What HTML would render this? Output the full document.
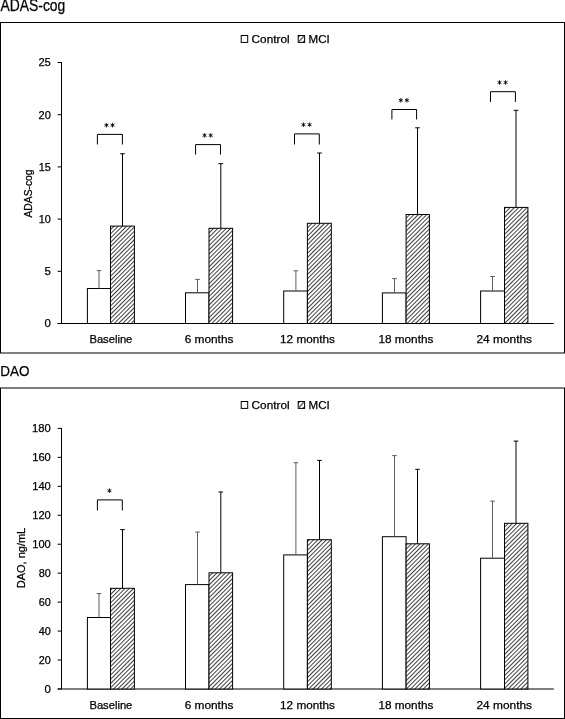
<!DOCTYPE html><html><head><meta charset="utf-8"><style>html,body{margin:0;padding:0;background:#fff;width:565px;height:719px;overflow:hidden}svg{display:block;font-family:"Liberation Sans", sans-serif;will-change:transform}text{fill:#000;stroke:#000;stroke-width:0.25px}</style></head><body>
<svg width="565" height="719" viewBox="0 0 565 719">
<defs><pattern id="hatch" patternUnits="userSpaceOnUse" width="3" height="3" patternTransform="rotate(45)"><rect width="3" height="3" fill="#fff"/><rect x="0" y="0" width="0.75" height="3" fill="#000"/></pattern><pattern id="hatchL" patternUnits="userSpaceOnUse" width="3" height="3" patternTransform="rotate(45)"><rect width="3" height="3" fill="#fff"/><rect x="0" y="0" width="0.75" height="3" fill="#000"/></pattern></defs>
<rect x="0" y="0" width="565" height="719" fill="#fff"/>
<text x="0.5" y="10.5" font-size="16" text-anchor="start" textLength="64.8" lengthAdjust="spacingAndGlyphs">ADAS-cog</text>
<text x="0.3" y="375.6" font-size="15.5" text-anchor="start" textLength="29.2" lengthAdjust="spacingAndGlyphs">DAO</text>
<rect x="0.5" y="22.5" width="564" height="330.5" fill="none" stroke="#000" stroke-width="1"/>
<rect x="0.5" y="388" width="564" height="330.5" fill="none" stroke="#000" stroke-width="1"/>
<rect x="241.2" y="35.5" width="6.5" height="6.9" fill="#fff" stroke="#000" stroke-width="1"/>
<text x="251.6" y="42.7" font-size="11" text-anchor="start" textLength="38.0" lengthAdjust="spacingAndGlyphs">Control</text>
<rect x="298.2" y="35.5" width="6.4" height="6.9" fill="#fff" stroke="#000" stroke-width="1"/>
<line x1="298.9" y1="41.8" x2="303.9" y2="36.1" stroke="#6a6a6a" stroke-width="1.5"/>
<path d="M298.2 35.5h2.2l-2.2 2.3z" fill="#000"/>
<path d="M304.6 42.4h-2.2l2.2 -2.3z" fill="#000"/>
<text x="308.6" y="42.7" font-size="11" text-anchor="start" textLength="21.2" lengthAdjust="spacingAndGlyphs">MCI</text>
<line x1="61.5" y1="62.0" x2="61.5" y2="323.5" stroke="#000" stroke-width="1"/>
<line x1="57.6" y1="323.5" x2="61.5" y2="323.5" stroke="#000" stroke-width="1"/>
<text x="50.8" y="327.4" font-size="11" text-anchor="end" textLength="6.3999999999999995" lengthAdjust="spacingAndGlyphs">0</text>
<line x1="57.6" y1="271.3" x2="61.5" y2="271.3" stroke="#000" stroke-width="1"/>
<text x="50.8" y="275.2" font-size="11" text-anchor="end" textLength="6.3999999999999995" lengthAdjust="spacingAndGlyphs">5</text>
<line x1="57.6" y1="219.10000000000002" x2="61.5" y2="219.10000000000002" stroke="#000" stroke-width="1"/>
<text x="50.8" y="223.00000000000003" font-size="11" text-anchor="end" textLength="12.100000000000001" lengthAdjust="spacingAndGlyphs">10</text>
<line x1="57.6" y1="166.9" x2="61.5" y2="166.9" stroke="#000" stroke-width="1"/>
<text x="50.8" y="170.8" font-size="11" text-anchor="end" textLength="12.100000000000001" lengthAdjust="spacingAndGlyphs">15</text>
<line x1="57.6" y1="114.70000000000002" x2="61.5" y2="114.70000000000002" stroke="#000" stroke-width="1"/>
<text x="50.8" y="118.60000000000002" font-size="11" text-anchor="end" textLength="12.3" lengthAdjust="spacingAndGlyphs">20</text>
<line x1="57.6" y1="62.5" x2="61.5" y2="62.5" stroke="#000" stroke-width="1"/>
<text x="50.8" y="66.4" font-size="11" text-anchor="end" textLength="12.4" lengthAdjust="spacingAndGlyphs">25</text>
<line x1="57.6" y1="323.5" x2="553.8" y2="323.5" stroke="#000" stroke-width="1"/>
<text x="0" y="0" font-size="10.6" text-anchor="middle" textLength="48" lengthAdjust="spacingAndGlyphs" transform="translate(32.2,193.5) rotate(-90)">ADAS-cog</text>
<rect x="87.4" y="288.5" width="23.10" height="35.00" fill="#fff" stroke="#000" stroke-width="1"/>
<line x1="99.0" y1="270.6" x2="99.0" y2="288.5" stroke="#5c5c5c" stroke-width="1"/>
<line x1="96.7" y1="270.6" x2="101.3" y2="270.6" stroke="#5c5c5c" stroke-width="1"/>
<rect x="110.5" y="226.1" width="23.90" height="97.40" fill="url(#hatch)" stroke="#000" stroke-width="1"/>
<line x1="122.5" y1="153.75" x2="122.5" y2="226.1" stroke="#000" stroke-width="1"/>
<line x1="120.2" y1="153.75" x2="124.8" y2="153.75" stroke="#000" stroke-width="1"/>
<text x="110.9" y="343.1" font-size="11" text-anchor="middle" textLength="42.9" lengthAdjust="spacingAndGlyphs">Baseline</text>
<rect x="185.5" y="292.8" width="23.50" height="30.70" fill="#fff" stroke="#000" stroke-width="1"/>
<line x1="197.5" y1="279.4" x2="197.5" y2="292.8" stroke="#5c5c5c" stroke-width="1"/>
<line x1="195.2" y1="279.4" x2="199.8" y2="279.4" stroke="#5c5c5c" stroke-width="1"/>
<rect x="209.0" y="228.3" width="23.60" height="95.20" fill="url(#hatch)" stroke="#000" stroke-width="1"/>
<line x1="220.8" y1="163.7" x2="220.8" y2="228.3" stroke="#000" stroke-width="1"/>
<line x1="218.5" y1="163.7" x2="223.10000000000002" y2="163.7" stroke="#000" stroke-width="1"/>
<text x="209.05" y="343.1" font-size="11" text-anchor="middle" textLength="48.8" lengthAdjust="spacingAndGlyphs">6 months</text>
<rect x="283.7" y="291.0" width="23.70" height="32.50" fill="#fff" stroke="#000" stroke-width="1"/>
<line x1="295.9" y1="270.8" x2="295.9" y2="291.0" stroke="#5c5c5c" stroke-width="1"/>
<line x1="293.59999999999997" y1="270.8" x2="298.2" y2="270.8" stroke="#5c5c5c" stroke-width="1"/>
<rect x="307.4" y="223.3" width="23.90" height="100.20" fill="url(#hatch)" stroke="#000" stroke-width="1"/>
<line x1="319.5" y1="153.0" x2="319.5" y2="223.3" stroke="#000" stroke-width="1"/>
<line x1="317.2" y1="153.0" x2="321.8" y2="153.0" stroke="#000" stroke-width="1"/>
<text x="307.5" y="343.1" font-size="11" text-anchor="middle" textLength="54.8" lengthAdjust="spacingAndGlyphs">12 months</text>
<rect x="382.4" y="292.9" width="23.70" height="30.60" fill="#fff" stroke="#000" stroke-width="1"/>
<line x1="394.5" y1="278.6" x2="394.5" y2="292.9" stroke="#5c5c5c" stroke-width="1"/>
<line x1="392.2" y1="278.6" x2="396.8" y2="278.6" stroke="#5c5c5c" stroke-width="1"/>
<rect x="406.1" y="214.5" width="23.30" height="109.00" fill="url(#hatch)" stroke="#000" stroke-width="1"/>
<line x1="417.5" y1="127.8" x2="417.5" y2="214.5" stroke="#000" stroke-width="1"/>
<line x1="415.2" y1="127.8" x2="419.8" y2="127.8" stroke="#000" stroke-width="1"/>
<text x="405.9" y="343.1" font-size="11" text-anchor="middle" textLength="55.0" lengthAdjust="spacingAndGlyphs">18 months</text>
<rect x="480.6" y="291.0" width="23.90" height="32.50" fill="#fff" stroke="#000" stroke-width="1"/>
<line x1="492.5" y1="276.5" x2="492.5" y2="291.0" stroke="#5c5c5c" stroke-width="1"/>
<line x1="490.2" y1="276.5" x2="494.8" y2="276.5" stroke="#5c5c5c" stroke-width="1"/>
<rect x="504.5" y="207.4" width="23.40" height="116.10" fill="url(#hatch)" stroke="#000" stroke-width="1"/>
<line x1="516.0" y1="110.3" x2="516.0" y2="207.4" stroke="#000" stroke-width="1"/>
<line x1="513.7" y1="110.3" x2="518.3" y2="110.3" stroke="#000" stroke-width="1"/>
<text x="504.25" y="343.1" font-size="11" text-anchor="middle" textLength="55.5" lengthAdjust="spacingAndGlyphs">24 months</text>
<path d="M97.4 144.5 V134.4 H122.4 V144.5" fill="none" stroke="#000" stroke-width="1"/>
<path d="M106.45 122.95L106.45 127.45M108.40 124.08L104.50 126.33M108.40 126.33L104.50 124.08" stroke="#000" stroke-width="0.9" fill="none"/>
<path d="M112.55 122.95L112.55 127.45M114.50 124.08L110.60 126.33M114.50 126.33L110.60 124.08" stroke="#000" stroke-width="0.9" fill="none"/>
<path d="M195.6 154.5 V144.6 H220.5 V154.5" fill="none" stroke="#000" stroke-width="1"/>
<path d="M204.60 133.15L204.60 137.65M206.55 134.28L202.65 136.53M206.55 136.53L202.65 134.28" stroke="#000" stroke-width="0.9" fill="none"/>
<path d="M210.70 133.15L210.70 137.65M212.65 134.28L208.75 136.53M212.65 136.53L208.75 134.28" stroke="#000" stroke-width="0.9" fill="none"/>
<path d="M294.5 144.5 V133.9 H319.3 V144.5" fill="none" stroke="#000" stroke-width="1"/>
<path d="M303.45 122.45L303.45 126.95M305.40 123.58L301.50 125.83M305.40 125.83L301.50 123.58" stroke="#000" stroke-width="0.9" fill="none"/>
<path d="M309.55 122.45L309.55 126.95M311.50 123.58L307.60 125.83M311.50 125.83L307.60 123.58" stroke="#000" stroke-width="0.9" fill="none"/>
<path d="M391.9 119.45 V109.5 H416.6 V119.45" fill="none" stroke="#000" stroke-width="1"/>
<path d="M400.80 98.05L400.80 102.55M402.75 99.17L398.85 101.42M402.75 101.42L398.85 99.17" stroke="#000" stroke-width="0.9" fill="none"/>
<path d="M406.90 98.05L406.90 102.55M408.85 99.17L404.95 101.42M408.85 101.42L404.95 99.17" stroke="#000" stroke-width="0.9" fill="none"/>
<path d="M490.5 101.95 V91.7 H515.4 V101.95" fill="none" stroke="#000" stroke-width="1"/>
<path d="M499.50 80.25L499.50 84.75M501.45 81.38L497.55 83.62M501.45 83.62L497.55 81.38" stroke="#000" stroke-width="0.9" fill="none"/>
<path d="M505.60 80.25L505.60 84.75M507.55 81.38L503.65 83.62M507.55 83.62L503.65 81.38" stroke="#000" stroke-width="0.9" fill="none"/>
<rect x="241.2" y="401.5" width="6.5" height="6.9" fill="#fff" stroke="#000" stroke-width="1"/>
<text x="251.6" y="408.7" font-size="11" text-anchor="start" textLength="38.0" lengthAdjust="spacingAndGlyphs">Control</text>
<rect x="298.2" y="401.5" width="6.4" height="6.9" fill="#fff" stroke="#000" stroke-width="1"/>
<line x1="298.9" y1="407.8" x2="303.9" y2="402.1" stroke="#6a6a6a" stroke-width="1.5"/>
<path d="M298.2 401.5h2.2l-2.2 2.3z" fill="#000"/>
<path d="M304.6 408.4h-2.2l2.2 -2.3z" fill="#000"/>
<text x="308.6" y="408.7" font-size="11" text-anchor="start" textLength="21.2" lengthAdjust="spacingAndGlyphs">MCI</text>
<line x1="61.5" y1="427.9" x2="61.5" y2="689.0" stroke="#000" stroke-width="1"/>
<line x1="57.6" y1="689.0" x2="61.5" y2="689.0" stroke="#000" stroke-width="1"/>
<text x="50.8" y="692.9" font-size="11" text-anchor="end" textLength="6.3999999999999995" lengthAdjust="spacingAndGlyphs">0</text>
<line x1="57.6" y1="660.0444444444445" x2="61.5" y2="660.0444444444445" stroke="#000" stroke-width="1"/>
<text x="50.8" y="663.9444444444445" font-size="11" text-anchor="end" textLength="12.100000000000001" lengthAdjust="spacingAndGlyphs">20</text>
<line x1="57.6" y1="631.0888888888888" x2="61.5" y2="631.0888888888888" stroke="#000" stroke-width="1"/>
<text x="50.8" y="634.9888888888888" font-size="11" text-anchor="end" textLength="12.100000000000001" lengthAdjust="spacingAndGlyphs">40</text>
<line x1="57.6" y1="602.1333333333333" x2="61.5" y2="602.1333333333333" stroke="#000" stroke-width="1"/>
<text x="50.8" y="606.0333333333333" font-size="11" text-anchor="end" textLength="12.100000000000001" lengthAdjust="spacingAndGlyphs">60</text>
<line x1="57.6" y1="573.1777777777778" x2="61.5" y2="573.1777777777778" stroke="#000" stroke-width="1"/>
<text x="50.8" y="577.0777777777778" font-size="11" text-anchor="end" textLength="12.100000000000001" lengthAdjust="spacingAndGlyphs">80</text>
<line x1="57.6" y1="544.2222222222222" x2="61.5" y2="544.2222222222222" stroke="#000" stroke-width="1"/>
<text x="50.8" y="548.1222222222221" font-size="11" text-anchor="end" textLength="18.6" lengthAdjust="spacingAndGlyphs">100</text>
<line x1="57.6" y1="515.2666666666667" x2="61.5" y2="515.2666666666667" stroke="#000" stroke-width="1"/>
<text x="50.8" y="519.1666666666666" font-size="11" text-anchor="end" textLength="18.6" lengthAdjust="spacingAndGlyphs">120</text>
<line x1="57.6" y1="486.31111111111113" x2="61.5" y2="486.31111111111113" stroke="#000" stroke-width="1"/>
<text x="50.8" y="490.2111111111111" font-size="11" text-anchor="end" textLength="18.6" lengthAdjust="spacingAndGlyphs">140</text>
<line x1="57.6" y1="457.35555555555555" x2="61.5" y2="457.35555555555555" stroke="#000" stroke-width="1"/>
<text x="50.8" y="461.25555555555553" font-size="11" text-anchor="end" textLength="18.6" lengthAdjust="spacingAndGlyphs">160</text>
<line x1="57.6" y1="428.4" x2="61.5" y2="428.4" stroke="#000" stroke-width="1"/>
<text x="50.8" y="432.29999999999995" font-size="11" text-anchor="end" textLength="18.8" lengthAdjust="spacingAndGlyphs">180</text>
<line x1="57.6" y1="689.0" x2="553.8" y2="689.0" stroke="#000" stroke-width="1"/>
<text x="0" y="0" font-size="10.6" text-anchor="middle" textLength="60.4" lengthAdjust="spacingAndGlyphs" transform="translate(24.6,558.0) rotate(-90)">DAO, ng/mL</text>
<rect x="87.4" y="617.5" width="23.10" height="71.50" fill="#fff" stroke="#000" stroke-width="1"/>
<line x1="99.0" y1="593.6" x2="99.0" y2="617.5" stroke="#5c5c5c" stroke-width="1"/>
<line x1="96.7" y1="593.6" x2="101.3" y2="593.6" stroke="#5c5c5c" stroke-width="1"/>
<rect x="110.5" y="588.3" width="23.90" height="100.70" fill="url(#hatch)" stroke="#000" stroke-width="1"/>
<line x1="122.5" y1="529.6" x2="122.5" y2="588.3" stroke="#000" stroke-width="1"/>
<line x1="120.2" y1="529.6" x2="124.8" y2="529.6" stroke="#000" stroke-width="1"/>
<text x="110.9" y="708.6" font-size="11" text-anchor="middle" textLength="42.9" lengthAdjust="spacingAndGlyphs">Baseline</text>
<rect x="185.5" y="584.6" width="23.50" height="104.40" fill="#fff" stroke="#000" stroke-width="1"/>
<line x1="197.5" y1="532.1" x2="197.5" y2="584.6" stroke="#5c5c5c" stroke-width="1"/>
<line x1="195.2" y1="532.1" x2="199.8" y2="532.1" stroke="#5c5c5c" stroke-width="1"/>
<rect x="209.0" y="572.8" width="23.60" height="116.20" fill="url(#hatch)" stroke="#000" stroke-width="1"/>
<line x1="220.8" y1="492.0" x2="220.8" y2="572.8" stroke="#000" stroke-width="1"/>
<line x1="218.5" y1="492.0" x2="223.10000000000002" y2="492.0" stroke="#000" stroke-width="1"/>
<text x="209.05" y="708.6" font-size="11" text-anchor="middle" textLength="48.8" lengthAdjust="spacingAndGlyphs">6 months</text>
<rect x="283.7" y="554.9" width="23.70" height="134.10" fill="#fff" stroke="#000" stroke-width="1"/>
<line x1="295.9" y1="462.7" x2="295.9" y2="554.9" stroke="#5c5c5c" stroke-width="1"/>
<line x1="293.59999999999997" y1="462.7" x2="298.2" y2="462.7" stroke="#5c5c5c" stroke-width="1"/>
<rect x="307.4" y="539.7" width="23.90" height="149.30" fill="url(#hatch)" stroke="#000" stroke-width="1"/>
<line x1="319.5" y1="460.4" x2="319.5" y2="539.7" stroke="#000" stroke-width="1"/>
<line x1="317.2" y1="460.4" x2="321.8" y2="460.4" stroke="#000" stroke-width="1"/>
<text x="307.5" y="708.6" font-size="11" text-anchor="middle" textLength="54.8" lengthAdjust="spacingAndGlyphs">12 months</text>
<rect x="382.4" y="536.7" width="23.70" height="152.30" fill="#fff" stroke="#000" stroke-width="1"/>
<line x1="394.5" y1="455.6" x2="394.5" y2="536.7" stroke="#5c5c5c" stroke-width="1"/>
<line x1="392.2" y1="455.6" x2="396.8" y2="455.6" stroke="#5c5c5c" stroke-width="1"/>
<rect x="406.1" y="543.8" width="23.30" height="145.20" fill="url(#hatch)" stroke="#000" stroke-width="1"/>
<line x1="417.5" y1="469.3" x2="417.5" y2="543.8" stroke="#000" stroke-width="1"/>
<line x1="415.2" y1="469.3" x2="419.8" y2="469.3" stroke="#000" stroke-width="1"/>
<text x="405.9" y="708.6" font-size="11" text-anchor="middle" textLength="55.0" lengthAdjust="spacingAndGlyphs">18 months</text>
<rect x="480.6" y="558.2" width="23.90" height="130.80" fill="#fff" stroke="#000" stroke-width="1"/>
<line x1="492.5" y1="501.1" x2="492.5" y2="558.2" stroke="#5c5c5c" stroke-width="1"/>
<line x1="490.2" y1="501.1" x2="494.8" y2="501.1" stroke="#5c5c5c" stroke-width="1"/>
<rect x="504.5" y="523.3" width="23.40" height="165.70" fill="url(#hatch)" stroke="#000" stroke-width="1"/>
<line x1="516.0" y1="441.1" x2="516.0" y2="523.3" stroke="#000" stroke-width="1"/>
<line x1="513.7" y1="441.1" x2="518.3" y2="441.1" stroke="#000" stroke-width="1"/>
<text x="504.25" y="708.6" font-size="11" text-anchor="middle" textLength="55.5" lengthAdjust="spacingAndGlyphs">24 months</text>
<path d="M97.4 510.5 V499.9 H122.3 V510.5" fill="none" stroke="#000" stroke-width="1"/>
<path d="M109.45 488.45L109.45 492.95M111.40 489.57L107.50 491.82M111.40 491.82L107.50 489.57" stroke="#000" stroke-width="0.9" fill="none"/>
</svg></body></html>
